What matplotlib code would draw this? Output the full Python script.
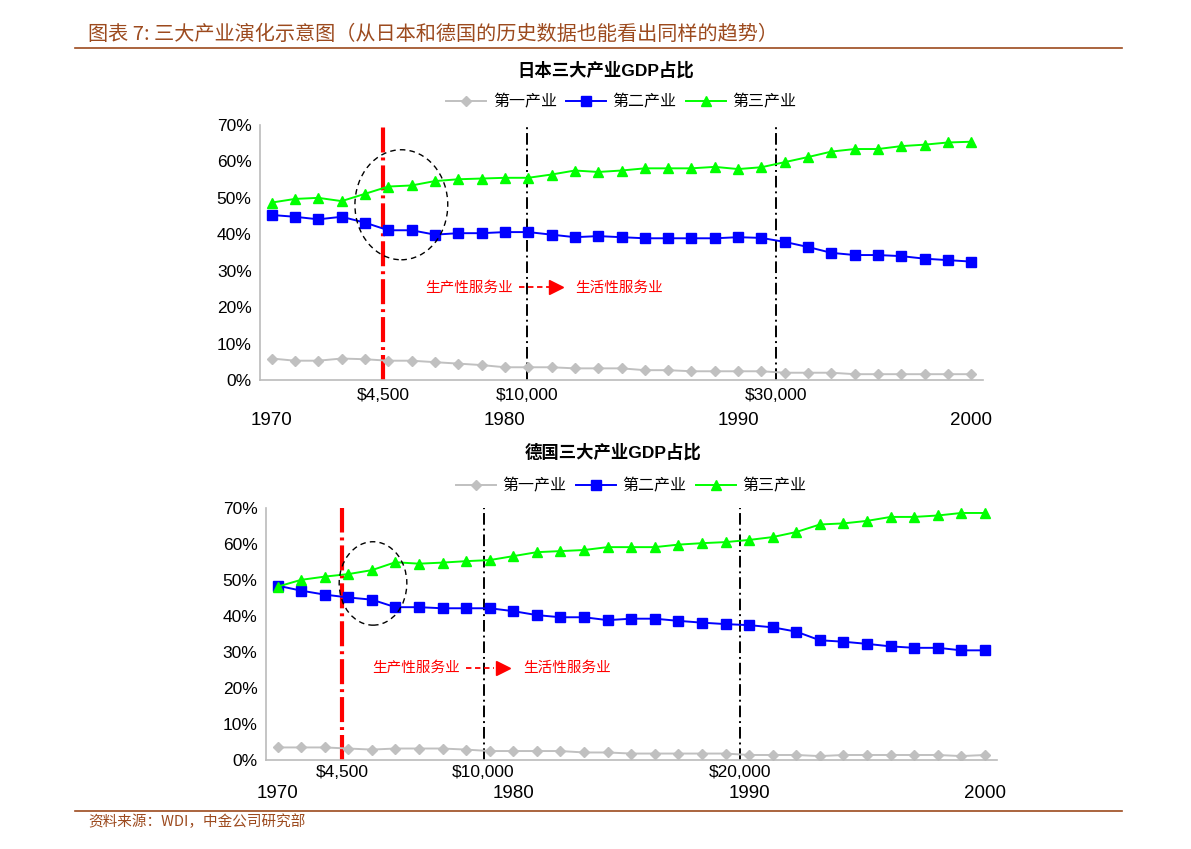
import matplotlib
matplotlib.use("Agg")
import matplotlib.pyplot as plt
from matplotlib.patches import Ellipse
import numpy as np

plt.rcParams['font.family'] = ['Liberation Sans', 'Noto Sans CJK SC', 'DejaVu Sans']

years = list(range(1970, 2001))
series_names = ['第一产业', '第二产业', '第三产业']

# 日本三大产业 GDP 占比 (%)
jp_primary = [5.9, 5.3, 5.3, 5.9, 5.7, 5.3, 5.3, 4.9, 4.5, 4.1, 3.5, 3.5, 3.5, 3.2, 3.2, 3.2,
              2.7, 2.7, 2.4, 2.4, 2.4, 2.4, 2.0, 2.0, 2.0, 1.6, 1.6, 1.6, 1.6, 1.6, 1.6]
jp_secondary = [45.3, 44.8, 44.1, 44.8, 43.2, 41.1, 41.1, 39.9, 40.3, 40.3, 40.6, 40.6, 39.9, 39.2, 39.5, 39.2,
                38.9, 38.9, 38.9, 38.9, 39.2, 39.0, 37.9, 36.5, 34.9, 34.3, 34.3, 34.0, 33.3, 32.9, 32.5]
jp_tertiary = [48.7, 49.7, 50.0, 49.1, 51.1, 53.1, 53.4, 54.6, 55.1, 55.3, 55.5, 55.5, 56.4, 57.5, 57.1, 57.5,
               58.1, 58.1, 58.1, 58.5, 57.9, 58.4, 59.8, 61.2, 62.7, 63.4, 63.4, 64.2, 64.6, 65.2, 65.4]

# 德国三大产业 GDP 占比 (%)
de_primary = [3.5, 3.5, 3.5, 3.2, 2.9, 3.2, 3.2, 3.2, 2.9, 2.5, 2.5, 2.5, 2.5, 2.1, 2.1, 1.8,
              1.8, 1.8, 1.8, 1.8, 1.4, 1.4, 1.4, 1.1, 1.4, 1.4, 1.4, 1.4, 1.4, 1.1, 1.4]
de_secondary = [48.5, 47.1, 46.0, 45.2, 44.6, 42.5, 42.5, 42.2, 42.2, 42.2, 41.4, 40.3, 39.7, 39.7, 38.9, 39.3,
                39.3, 38.7, 38.2, 37.8, 37.5, 36.9, 35.7, 33.3, 32.9, 32.3, 31.6, 31.2, 31.2, 30.5, 30.5]
de_tertiary = [48.2, 50.1, 51.0, 51.7, 52.8, 55.0, 54.6, 54.9, 55.3, 55.6, 56.7, 57.8, 58.1, 58.4, 59.2, 59.2,
               59.2, 59.9, 60.3, 60.6, 61.2, 62.0, 63.4, 65.5, 65.8, 66.5, 67.6, 67.6, 68.0, 68.7, 68.7]

# 人均收入门槛 (位置以年份为单位)
jp_income_pos = [1974.78, 1980.94, 1991.64]
jp_income_labels = ['$4,500', '$10,000', '$30,000']
de_income_pos = [1972.74, 1978.74, 1989.6]
de_income_labels = ['$4,500', '$10,000', '$20,000']

year_ticks = [1970, 1980, 1990, 2000]

brown = '#9C4A1E'
colors = ['#C0C0C0', '#0000FF', '#00FF00']
markers = ['D', 's', '^']
msizes = [5, 6.5, 7.5]
cjk = ['Noto Sans CJK SC', 'DejaVu Sans']


def draw_panel(ax, title, data, income_pos, income_labels, ellipse, note_y, note_x, arrow_x,
               money_y, year_pad, title_xy, legend_y):
    x = np.arange(len(years))
    for vals, name, c, m, ms in zip(data, series_names, colors, markers, msizes):
        ax.plot(x, vals, color=c, marker=m, markersize=ms, lw=1.4, label=name,
                markeredgecolor=c)
    ax.set_xlim(-0.5, len(years) - 0.5)
    ax.set_ylim(0, 70)
    ax.set_yticks(range(0, 71, 10))
    ax.set_yticklabels([f'{v}%' for v in range(0, 71, 10)], fontsize=12.5)
    ax.set_xticks([years.index(y) for y in year_ticks])
    ax.set_xticklabels([str(y) for y in year_ticks], fontsize=13.5)
    ax.tick_params(axis='x', length=0, pad=year_pad)
    ax.tick_params(axis='y', length=0, pad=6)
    for s in ['top', 'right']:
        ax.spines[s].set_visible(False)
    for s in ['left', 'bottom']:
        ax.spines[s].set_color('#BBBBBB')
        ax.spines[s].set_linewidth(1.2)

    # 人均收入门槛竖线
    for i, (p, lab) in enumerate(zip(income_pos, income_labels)):
        xp = p - years[0]
        if i == 0:
            ax.axvline(xp, color='#FF0000', lw=3, linestyle=(0, (6, 1.2, 0.7, 1.2)), zorder=1)
        else:
            ax.axvline(xp, color='black', lw=1.4, linestyle=(0, (6, 2, 1, 2)), zorder=1)
        ax.text(xp, money_y, lab, transform=ax.get_xaxis_transform(), ha='center', va='center',
                fontsize=12.5)

    # 转折区域
    ex, ey, ew, eh = ellipse
    ax.add_patch(Ellipse((ex, ey), ew, eh, fill=False, ec='black', lw=1, linestyle=(0, (4, 3)), zorder=5))

    # 生产性服务业 -> 生活性服务业
    ax.text(note_x[0], note_y, '生产性服务业', color='#FF0000', fontsize=10.5, ha='center', va='center',
            family=cjk)
    ax.text(note_x[1], note_y, '生活性服务业', color='#FF0000', fontsize=10.5, ha='center', va='center',
            family=cjk)
    ax.plot(arrow_x[:2], [note_y, note_y], color='#FF0000', lw=1.3, linestyle=(0, (3, 2)))
    ax.plot([arrow_x[2]], [note_y], color='#FF0000', marker='>', markersize=10, lw=0)

    ax.legend(loc='center', bbox_to_anchor=(0.5, legend_y), ncol=3, frameon=False,
              prop={'family': cjk, 'size': 11.5}, handlelength=2.5, handletextpad=0.4, columnspacing=0.6,
              borderaxespad=0)
    ax.figure.text(title_xy[0], title_xy[1], title, ha='center', va='center', fontsize=12.5,
                   fontweight='bold', family=['Liberation Sans', 'Noto Sans CJK SC'])


fig = plt.figure(figsize=(11.91, 8.49), dpi=100)

ax1 = fig.add_axes([0.2183, 0.5524, 0.6071, 0.3004])
draw_panel(ax1, '日本三大产业GDP占比', [jp_primary, jp_secondary, jp_tertiary], jp_income_pos,
           jp_income_labels, (5.56, 48.1, 3.98, 30.2), 25.4, (8.45, 14.89), (10.6, 11.9, 12.2),
           -0.059, 23, (606 / 1191, 1 - 70 / 849), 1.09)

ax2 = fig.add_axes([0.2231, 0.1048, 0.6138, 0.2965])
draw_panel(ax2, '德国三大产业GDP占比', [de_primary, de_secondary, de_tertiary], de_income_pos,
           de_income_labels, (4.05, 49.1, 2.87, 23.2), 25.5, (5.89, 12.28), (7.98, 9.2, 9.55),
           -0.048, 18, (613 / 1191, 1 - 452 / 849), 1.09)

# 页眉与页脚
fig.text(88 / 1191, 1 - 35 / 849, '图表 7: 三大产业演化示意图（从日本和德国的历史数据也能看出同样的趋势）',
         color=brown, fontsize=14.5, style='italic', va='center', ha='left', family=cjk)
fig.add_artist(plt.Line2D([75 / 1191, 1122 / 1191], [1 - 48 / 849, 1 - 48 / 849], color=brown, lw=1.2))
fig.add_artist(plt.Line2D([75 / 1191, 1122 / 1191], [1 - 811 / 849, 1 - 811 / 849], color=brown, lw=1.2))
fig.text(88 / 1191, 1 - 822 / 849, '资料来源：WDI，中金公司研究部', color=brown, fontsize=10.5,
         style='italic', va='center', ha='left', family=cjk)

fig.savefig('out.png', dpi=100)
